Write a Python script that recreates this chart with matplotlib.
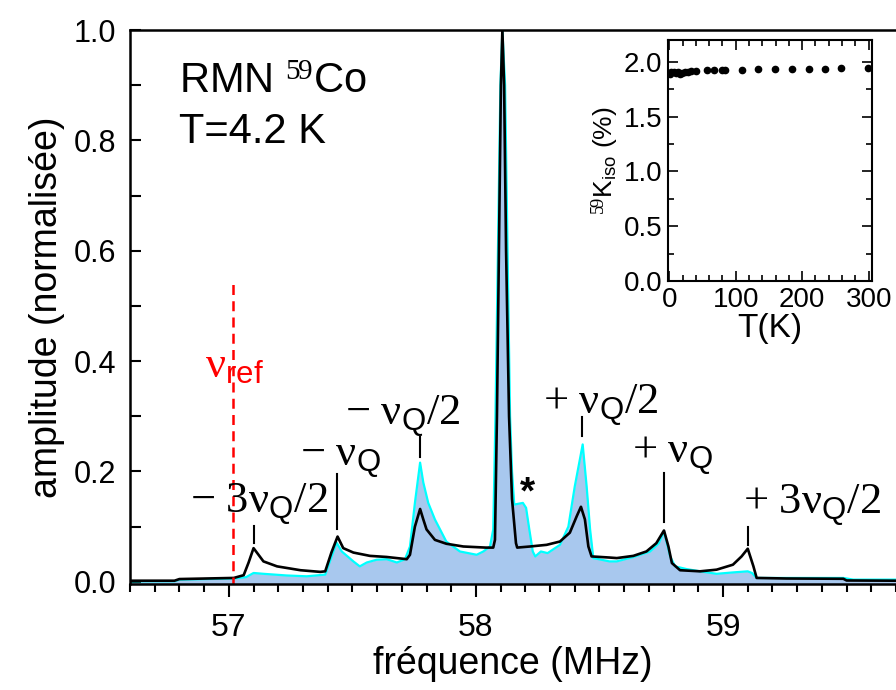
import matplotlib
matplotlib.use("Agg")
import matplotlib.pyplot as plt
from matplotlib.ticker import MultipleLocator, FormatStrFormatter

plt.rcParams["font.family"] = ["Liberation Sans", "DejaVu Sans"]
plt.rcParams["mathtext.fontset"] = "custom"
plt.rcParams["mathtext.rm"] = "Liberation Serif"
plt.rcParams["mathtext.it"] = "Liberation Serif:italic"
plt.rcParams["mathtext.sf"] = "Liberation Sans"

# simulated spectrum (black line)
freq_sim = [56.60, 56.78, 56.80, 57.02, 57.06, 57.08, 57.10, 57.14, 57.195, 57.29,
            57.37, 57.39, 57.415, 57.44, 57.463, 57.504, 57.571, 57.639, 57.72, 57.733,
            57.753, 57.774, 57.787, 57.80, 57.834, 57.88, 57.949, 58.04, 58.07, 58.077,
            58.085, 58.093, 58.101, 58.107, 58.114, 58.122, 58.134, 58.146, 58.162, 58.167,
            58.219, 58.286, 58.34, 58.38, 58.408, 58.425, 58.441, 58.455, 58.468, 58.54,
            58.57, 58.637, 58.69, 58.73, 58.761, 58.779, 58.793, 58.826, 58.907, 58.974,
            59.04, 59.075, 59.10, 59.123, 59.136, 59.257, 59.487, 59.50, 59.70]
amp_sim = [0.002, 0.002, 0.005, 0.007, 0.012, 0.035, 0.061, 0.037, 0.028, 0.021,
           0.018, 0.019, 0.053, 0.082, 0.061, 0.053, 0.047, 0.045, 0.041, 0.049,
           0.100, 0.132, 0.113, 0.095, 0.076, 0.069, 0.064, 0.062, 0.062, 0.076,
           0.30, 0.60, 0.90, 1.00, 0.90, 0.60, 0.30, 0.15, 0.07, 0.062,
           0.064, 0.067, 0.073, 0.089, 0.119, 0.136, 0.113, 0.064, 0.046, 0.044,
           0.043, 0.047, 0.055, 0.070, 0.093, 0.064, 0.034, 0.021, 0.019, 0.022,
           0.031, 0.046, 0.060, 0.028, 0.007, 0.006, 0.0055, 0.0024, 0.002]

# measured spectrum (blue fill)
freq_exp = [56.60, 56.78, 56.80, 57.02, 57.07, 57.10, 57.14, 57.234, 57.315, 57.39,
            57.416, 57.436, 57.457, 57.504, 57.53, 57.558, 57.598, 57.639, 57.68, 57.713,
            57.733, 57.753, 57.774, 57.787, 57.807, 57.834, 57.88, 57.935, 58.003, 58.03,
            58.057, 58.07, 58.079, 58.089, 58.099, 58.107, 58.118, 58.128, 58.138, 58.146,
            58.155, 58.19, 58.203, 58.216, 58.23, 58.24, 58.263, 58.29, 58.34, 58.374,
            58.40, 58.432, 58.448, 58.462, 58.475, 58.54, 58.57, 58.637, 58.705, 58.74,
            58.761, 58.786, 58.806, 58.853, 58.907, 58.974, 59.04, 59.10, 59.117, 59.136,
            59.487, 59.527, 59.70]
amp_exp = [0.001, 0.001, 0.004, 0.006, 0.0085, 0.016, 0.0145, 0.0115, 0.010, 0.013,
           0.046, 0.071, 0.055, 0.037, 0.028, 0.035, 0.040, 0.041, 0.035, 0.041,
           0.064, 0.143, 0.216, 0.18, 0.143, 0.113, 0.073, 0.055, 0.049, 0.055,
           0.064, 0.095, 0.30, 0.60, 0.90, 1.00, 0.90, 0.60, 0.30, 0.20,
           0.14, 0.143, 0.134, 0.095, 0.055, 0.046, 0.055, 0.052, 0.067, 0.10,
           0.173, 0.249, 0.173, 0.095, 0.043, 0.037, 0.037, 0.045, 0.055, 0.070,
           0.0915, 0.046, 0.028, 0.023, 0.019, 0.0145, 0.017, 0.019, 0.016, 0.007,
           0.007, 0.004, 0.004]

# quadrupolar satellite labels: text, text x, text y, mark x, mark y0, mark y1
sat_labels = [r"$\mathrm{-\ 3\nu}_{\mathsf{Q}}\mathrm{/2}$",
              r"$\mathrm{-\ \nu}_{\mathsf{Q}}$",
              r"$\mathrm{-\ \nu}_{\mathsf{Q}}\mathrm{/2}$",
              r"$\mathrm{+\ \nu}_{\mathsf{Q}}\mathrm{/2}$",
              r"$\mathrm{+\ \nu}_{\mathsf{Q}}$",
              r"$\mathrm{+\ 3\nu}_{\mathsf{Q}}\mathrm{/2}$"]
sat_text_x = [56.843, 57.288, 57.47, 58.27, 58.63, 59.08]
sat_text_y = [0.125, 0.21, 0.285, 0.305, 0.215, 0.122]
sat_mark_x = [57.102, 57.438, 57.774, 58.429, 58.761, 59.101]
sat_mark_y0 = [0.071, 0.095, 0.227, 0.264, 0.109, 0.067]
sat_mark_y1 = [0.102, 0.195, 0.262, 0.298, 0.198, 0.100]

nu_ref = 57.017

# inset: 59K_iso vs temperature
temp_K = [1.5, 3, 6.5, 10, 13, 16.5, 19.5, 23, 27.5, 32.5, 40,
          56.5, 67.5, 79, 84, 109, 134, 159, 184, 210, 235, 259, 299]
k_iso = [1.893, 1.903, 1.910, 1.900, 1.905, 1.887, 1.895, 1.903, 1.910, 1.918, 1.918,
         1.924, 1.924, 1.930, 1.930, 1.930, 1.939, 1.939, 1.939, 1.939, 1.939, 1.945, 1.948]

fig = plt.figure(figsize=(8.96, 6.9), dpi=100)
ax = fig.add_axes([0.1451, 0.1536, 0.8549, 0.8029])

ax.fill_between(freq_exp, -0.01, amp_exp, color="#a8c8ee", lw=0)
ax.plot(freq_exp, amp_exp, color="#00ffff", lw=1.6)
ax.plot(freq_sim, amp_sim, color="black", lw=1.9)
ax.plot([nu_ref, nu_ref], [-0.01, 0.54], color="red", ls=(0, (4, 2.5)), lw=1.8)

for lab, tx, ty, mx, y0, y1 in zip(sat_labels, sat_text_x, sat_text_y,
                                    sat_mark_x, sat_mark_y0, sat_mark_y1):
    ax.plot([mx, mx], [y0, y1], color="black", lw=1.5)
    ax.text(tx, ty, lab, fontsize=32, va="baseline", ha="left")

ax.text(58.21, 0.16, "*", fontsize=28, fontweight="bold", ha="center", va="center")
ax.text(56.904, 0.371, r"$\mathrm{\nu}_{\mathsf{ref}}$", color="red", fontsize=32,
        va="baseline", ha="left")

ax.text(56.80, 0.885, r"RMN $^{59}$Co", fontsize=30, va="baseline")
ax.text(56.80, 0.795, "T=4.2 K", fontsize=30, va="baseline")

ax.set_xlim(56.6, 59.7)
ax.set_ylim(-0.004, 1.0)
ax.xaxis.set_major_locator(MultipleLocator(1))
ax.xaxis.set_minor_locator(MultipleLocator(0.1))
ax.yaxis.set_major_locator(MultipleLocator(0.2))
ax.yaxis.set_minor_locator(MultipleLocator(0.1))
ax.yaxis.set_major_formatter(FormatStrFormatter("%.1f"))
ax.tick_params(axis="x", which="major", direction="out", length=9, width=1.5,
               labelsize=23, pad=12)
ax.tick_params(axis="x", which="minor", direction="out", length=6, width=1.5)
ax.tick_params(axis="y", which="both", direction="in", length=8, width=1.5,
               labelsize=22, pad=10)
for side in ("left", "bottom", "top"):
    ax.spines[side].set_linewidth(1.8)
ax.spines["right"].set_visible(False)
ax.set_xlabel("fréquence (MHz)", fontsize=27, labelpad=2)
ax.set_ylabel("amplitude (normalisée)", fontsize=27, labelpad=6)

ins = fig.add_axes([0.7455, 0.5928, 0.2277, 0.3493])
ins.plot(temp_K, k_iso, "o", color="black", ms=4.5)
ins.set_xlim(-2, 305)
ins.set_ylim(0, 2.2)
ins.xaxis.set_major_locator(MultipleLocator(100))
ins.xaxis.set_minor_locator(MultipleLocator(20))
ins.yaxis.set_major_locator(MultipleLocator(0.5))
ins.yaxis.set_minor_locator(MultipleLocator(0.25))
ins.tick_params(which="major", direction="in", length=7, width=1.2, top=True,
                right=True, labelsize=20, pad=4)
ins.tick_params(which="minor", direction="in", length=4, width=1.2, top=True, right=True)
for side in ins.spines.values():
    side.set_linewidth(1.5)
ins.set_xlabel("T(K)", fontsize=24, labelpad=0)
ins.set_ylabel(r"$^{59}$K$_{\mathregular{iso}}$ (%)", fontsize=19, labelpad=2)

fig.savefig("out.png", dpi=100)
